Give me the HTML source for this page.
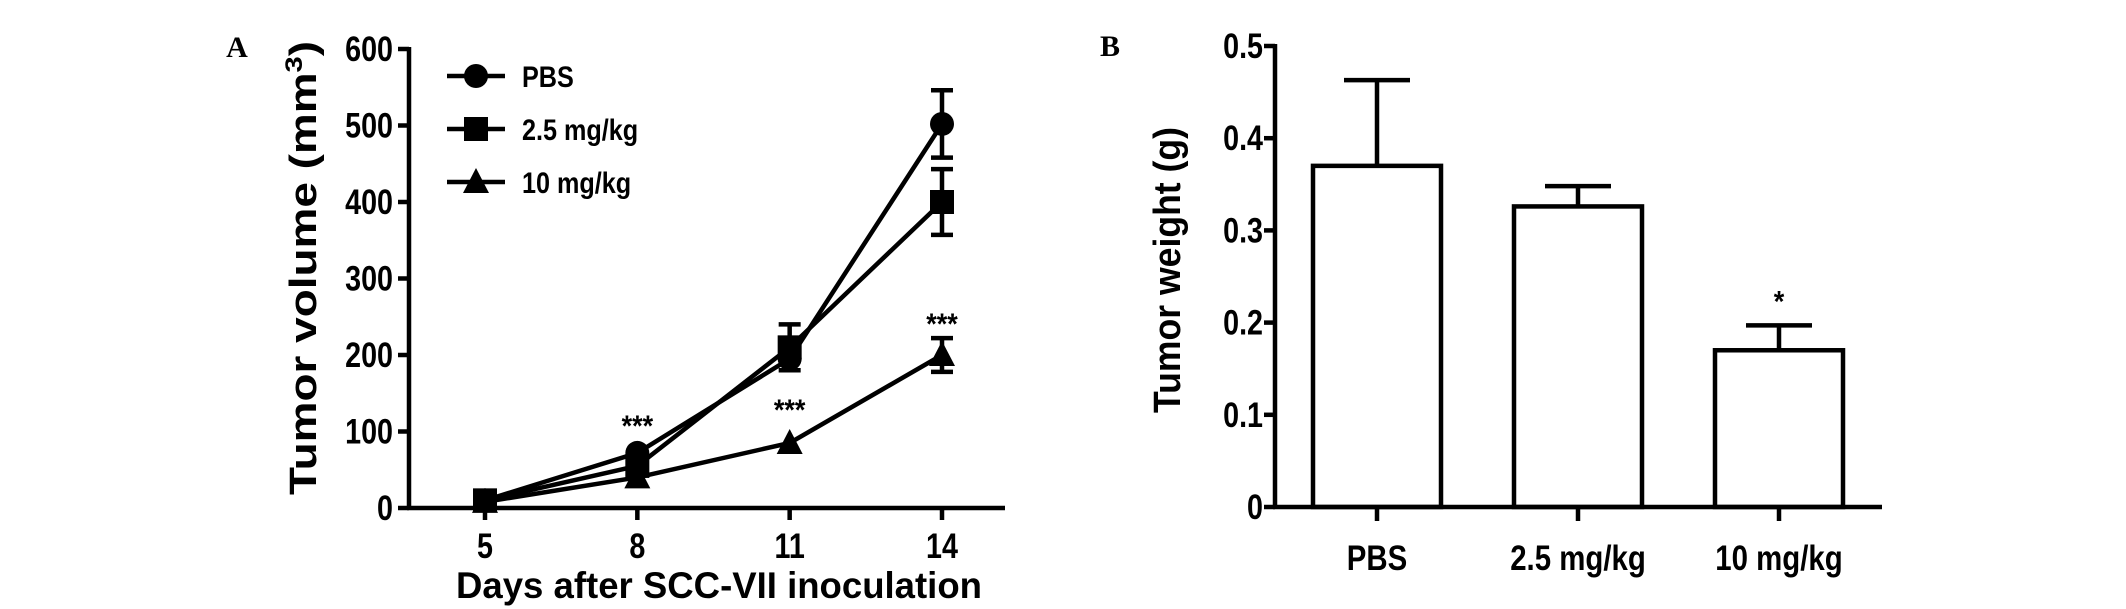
<!DOCTYPE html>
<html><head><meta charset="utf-8"><style>
html,body{margin:0;padding:0;background:#fff;}
svg{display:block;}
text{font-family:"Liberation Sans",sans-serif;font-weight:bold;fill:#000;}
.panel{font-family:"Liberation Serif",serif;}
</style></head><body>
<svg id="svg" width="2126" height="609" viewBox="0 0 2126 609" xmlns="http://www.w3.org/2000/svg"></svg>
<script>
// Panel A data
const daysA = [5, 8, 11, 14];
const pbsMean = [10, 72, 195, 502];
const pbsErr = [0, 0, 0, 44];
const lowMean = [10, 55, 210, 400];
const lowErr = [0, 0, 30, 43];
const highMean = [8, 40, 85, 200];
const highErr = [0, 0, 0, 22];
const yTicksA = [0, 100, 200, 300, 400, 500, 600];
const sigA = ["", "***", "***", "***"];
const sigAVal = [0, 72, 85, 222];
// Panel B data
const catsB = ["PBS", "2.5 mg/kg", "10 mg/kg"];
const weightMean = [0.37, 0.326, 0.17];
const weightErr = [0.093, 0.022, 0.027];
const yTicksB = [0, 0.1, 0.2, 0.3, 0.4, 0.5];
const sigB = ["", "", "*"];

const NS = "http://www.w3.org/2000/svg";
const svg = document.getElementById('svg');
function el(tag, attrs, parent, txt){
  const e = document.createElementNS(NS, tag);
  for (const k in attrs) e.setAttribute(k, attrs[k]);
  if (txt !== undefined) e.textContent = txt;
  (parent || svg).appendChild(e);
  return e;
}
function ctext(x, y, size, anchor, str, parent, sx){
  return el('text', {x:0, y:0, 'font-size':size, 'text-anchor':anchor, transform:`translate(${x},${y}) scale(${sx||0.82},1)`}, parent, str);
}
const LW = 4.5;

// ---- Panel A ----
const ax = {x0:409, xEnd:1005, y0:508, yTop:49};
const xA = d => 485 + (d - 5) * (942 - 485) / 9;
const yA = v => ax.y0 - v * (ax.y0 - ax.yTop) / 600;

let t = el('text', {x:237, y:57, 'font-size':30, 'text-anchor':'middle', class:'panel'}, svg, 'A');



const gA = el('g', {});



let l = el('line', {x1:ax.x0, y1:ax.yTop-2, x2:ax.x0, y2:ax.y0+2, stroke:'#000', 'stroke-width':LW}, gA);


l = el('line', {x1:ax.x0-2, y1:ax.y0, x2:ax.xEnd, y2:ax.y0, stroke:'#000', 'stroke-width':LW}, gA);



yTicksA.forEach(v => {
  const tk = el('line', {x1:ax.x0-11, y1:yA(v), x2:ax.x0, y2:yA(v), stroke:'#000', 'stroke-width':LW}, gA);
  
  
  const lb = ctext(393, yA(v)+12, 35, 'end', String(v), gA);
  
  
});
daysA.forEach(d => {
  const tk = el('line', {x1:xA(d), y1:ax.y0, x2:xA(d), y2:ax.y0+12, stroke:'#000', 'stroke-width':LW}, gA);
  
  
  const lb = ctext(xA(d), 558, 35, 'middle', String(d), gA);
  
  
});
t = el('text', {x:0, y:0, 'font-size':38, 'text-anchor':'middle', textLength:454, lengthAdjust:'spacingAndGlyphs', transform:'translate(316,268) rotate(-90)'}, gA);


t.appendChild(document.createTextNode('Tumor volume (mm'));
el('tspan', {dy:-14, 'font-size':24}, t, '3');
el('tspan', {dy:14}, t, ')');
t = el('text', {x:719, y:598, 'font-size':37, 'text-anchor':'middle', textLength:526, lengthAdjust:'spacingAndGlyphs'}, gA, 'Days after SCC-VII inoculation');



function marker(type, cx, cy, parent){
  let m;
  if (type === 'circle') m = el('circle', {cx:cx, cy:cy, r:12, fill:'#000'}, parent);
  else if (type === 'square') m = el('rect', {x:cx-12, y:cy-12, width:24, height:24, fill:'#000'}, parent);
  else m = el('polygon', {points:`${cx},${cy-14} ${cx+13},${cy+11} ${cx-13},${cy+11}`, fill:'#000'}, parent);
  return m;
}
const series = [
  {name:'pbs', mean:pbsMean, err:pbsErr, m:'circle'},
  {name:'2-5-mg', mean:lowMean, err:lowErr, m:'square'},
  {name:'10-mg', mean:highMean, err:highErr, m:'triangle'}
];
series.forEach(s => {
  const g = el('g', {}, gA);
  
  
  const pts = daysA.map((d,i) => xA(d)+','+yA(s.mean[i])).join(' ');
  const pl = el('polyline', {points:pts, fill:'none', stroke:'#000', 'stroke-width':LW}, g);
  
  
  daysA.forEach((d,i) => {
    if (s.err[i] > 0) {
      const x = xA(d), y1 = yA(s.mean[i]-s.err[i]), y2 = yA(s.mean[i]+s.err[i]);
      const eb = el('path', {d:`M${x},${y1}V${y2}M${x-11},${y1}H${x+11}M${x-11},${y2}H${x+11}`, stroke:'#000', 'stroke-width':LW, fill:'none'}, g);
      
      
    }
    const mk = marker(s.m, xA(d), yA(s.mean[i]), g);
    
    
  });
});
const sigOff = [0, 17, 23, 4];
sigA.forEach((s,i) => {
  if (!s) return;
  const st = ctext(xA(daysA[i]), yA(sigAVal[i]) - sigOff[i], 30, 'middle', s, gA, 0.9);
  
  
});
// legend
const legLabels = ['PBS', '2.5 mg/kg', '10 mg/kg'];
const legY = [76, 129, 182];
series.forEach((s,i) => {
  const g = el('g', {}, gA);
  
  
  el('line', {x1:447, y1:legY[i], x2:505, y2:legY[i], stroke:'#000', 'stroke-width':LW}, g);
  marker(s.m, 476, legY[i], g);
  ctext(522, legY[i]+11, 30, 'start', legLabels[i], g, 0.84);
});

// ---- Panel B ----
const bx = {x0:1275, xEnd:1882, y0:507, yTop:46};
const xB = i => 1377 + i * 201;
const yB = v => bx.y0 - v * (bx.y0 - bx.yTop) / 0.5;
t = el('text', {x:1110, y:56, 'font-size':30, 'text-anchor':'middle', class:'panel'}, svg, 'B');


const gB = el('g', {});



catsB.forEach((c,i) => {
  const x = xB(i), y = yB(weightMean[i]);
  const bar = el('rect', {x:x-64, y:y, width:128, height:bx.y0-y, fill:'#fff', stroke:'#000', 'stroke-width':LW}, gB);
  
  
  const ye = yB(weightMean[i]+weightErr[i]);
  const eb = el('path', {d:`M${x},${y}V${ye}M${x-33},${ye}H${x+33}`, stroke:'#000', 'stroke-width':LW, fill:'none'}, gB);
  
  
  const tk = el('line', {x1:x, y1:bx.y0, x2:x, y2:bx.y0+14, stroke:'#000', 'stroke-width':LW}, gB);
  
  
  const lb = ctext(x, 570, 35, 'middle', c, gB, 0.84);
  
  
  if (sigB[i]) {
    const st = ctext(x, ye-14, 30, 'middle', sigB[i], gB, 0.9);
    
    
  }
});
l = el('line', {x1:bx.x0, y1:bx.yTop-2, x2:bx.x0, y2:bx.y0+2, stroke:'#000', 'stroke-width':LW}, gB);


l = el('line', {x1:bx.x0-2, y1:bx.y0, x2:bx.xEnd, y2:bx.y0, stroke:'#000', 'stroke-width':LW}, gB);


yTicksB.forEach(v => {
  const tk = el('line', {x1:bx.x0-11, y1:yB(v), x2:bx.x0, y2:yB(v), stroke:'#000', 'stroke-width':LW}, gB);
  
  
  const lb = ctext(1263, yB(v)+12, 35, 'end', v === 0 ? '0' : v.toFixed(1), gB);
  
  
});
t = el('text', {x:0, y:0, 'font-size':38, 'text-anchor':'middle', textLength:286, lengthAdjust:'spacingAndGlyphs', transform:'translate(1180,270) rotate(-90)'}, gB, 'Tumor weight (g)');


</script>
</body></html>
